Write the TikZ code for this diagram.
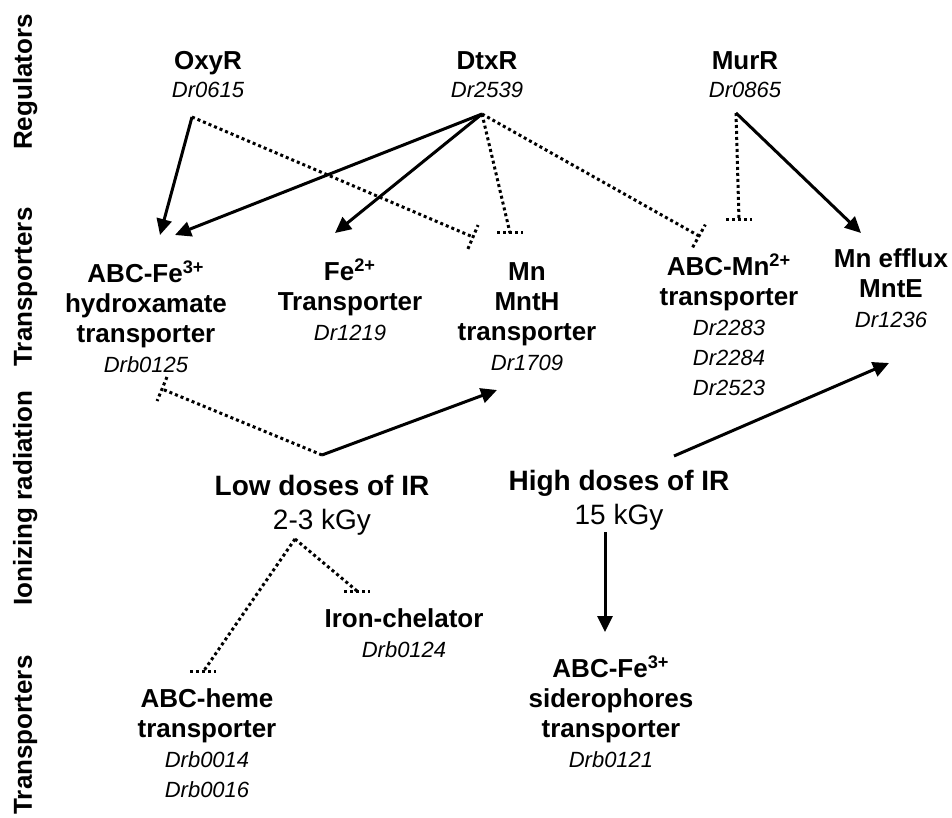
\documentclass[tikz,border=0pt]{standalone}
\usepackage{fontspec}
\setmainfont{Liberation Sans}
\usetikzlibrary{arrows.meta, decorations.markings}

\newcommand{\gid}[1]{{\fontsize{11}{15}\selectfont\mdseries\itshape #1}}

\tikzset{
  % nodes sit on the baseline of their last line
  tbox/.style={align=center, anchor=base, inner sep=0pt,
               font=\fontsize{13}{15}\selectfont\bfseries},
  regbox/.style={tbox, font=\fontsize{13}{14}\selectfont\bfseries},
  irbox/.style={tbox, font=\fontsize{14}{17}\selectfont\bfseries},
  sidelab/.style={rotate=90, anchor=base, inner sep=0pt,
                  font=\fontsize{13}{15}\selectfont\bfseries},
  act/.style={line width=1.5pt, -{Triangle[length=8pt, width=7.5pt]}},
  dotline/.style={line width=1.5pt, dash pattern=on 1.5pt off 1.5pt},
  % repression: dotted line ending in a dotted bar
  rep/.style={dotline, postaction={decorate},
    decoration={markings, mark=at position 1 with
      {\draw[dotline] (0,-6.5pt) -- (0,6.5pt);}}},
  repflat/.style={dotline, postaction={decorate},
    decoration={markings, mark=at position 1 with
      {\pgftransformresetnontranslations
       \draw[dotline] (-6.5pt,0) -- (6.5pt,0);}}},
}

\begin{document}
\begin{tikzpicture}[x=0.5pt, y=-0.5pt]
  \useasboundingbox (0,0) rectangle (952,818);

  % row labels
  \node[sidelab] (labreg) at (32,82)  {Regulators};
  \node[sidelab] (labtr1) at (32,287) {Transporters};
  \node[sidelab] (labir)  at (32,498) {Ionizing radiation};
  \node[sidelab] (labtr2) at (32,735) {Transporters};

  % regulators
  \node[regbox] (oxyr) at (208,98) {OxyR\\\gid{Dr0615}};
  \node[regbox] (dtxr) at (487,98) {DtxR\\\gid{Dr2539}};
  \node[regbox] (murr) at (745,98) {MurR\\\gid{Dr0865}};

  % transporters
  \node[tbox] (fe3hx) at (146,372)
    {ABC-Fe\textsuperscript{3+}\\hydroxamate\\transporter\\\gid{Drb0125}};
  \node[tbox] (fe2) at (350,340)
    {Fe\textsuperscript{2+}\\Transporter\\\gid{Dr1219}};
  \node[tbox] (mnth) at (527,370)
    {Mn\\MntH\\transporter\\\gid{Dr1709}};
  \node[tbox] (mn2) at (729,395)
    {ABC-Mn\textsuperscript{2+}\\transporter\\\gid{Dr2283}\\\gid{Dr2284}\\\gid{Dr2523}};
  \node[tbox] (mnte) at (891,327)
    {Mn efflux\\MntE\\\gid{Dr1236}};

  % irradiation
  \node[irbox] (low) at (322,529) {Low doses of IR\\\mdseries 2-3 kGy};
  \node[irbox] (high) at (619,524) {High doses of IR\\\mdseries 15 kGy};

  % lower transporters
  \node[tbox] (chel) at (404,657) {Iron-chelator\\\gid{Drb0124}};
  \node[tbox] (heme) at (207,797)
    {ABC-heme\\transporter\\\gid{Drb0014}\\\gid{Drb0016}};
  \node[tbox] (fe3sd) at (611,767)
    {ABC-Fe\textsuperscript{3+}\\siderophores\\transporter\\\gid{Drb0121}};

  % connector ends
  \coordinate (oxyr-o) at (192,117);
  \coordinate (dtxr-o) at (482,114);
  \coordinate (murr-o) at (736,113);
  \coordinate (low-u)  at (322,455);
  \coordinate (low-d)  at (295,539);
  \coordinate (high-u) at (674,456);
  \coordinate (high-d) at (605,532);

  \coordinate (fe3hx-a) at (160,235);
  \coordinate (fe3hx-b) at (175,235);
  \coordinate (fe3hx-r) at (162,389);
  \coordinate (fe2-a)   at (335,233);
  \coordinate (mnth-a)  at (497,390);
  \coordinate (mnth-r)  at (473,237);
  \coordinate (mnth-s)  at (510,233);
  \coordinate (mn2-r)   at (699,236);
  \coordinate (mn2-s)   at (739,220);
  \coordinate (mnte-a)  at (861,233);
  \coordinate (mnte-b)  at (889,363);
  \coordinate (chel-r)  at (357,591);
  \coordinate (heme-r)  at (203,672);
  \coordinate (fe3sd-a) at (605,632);

  % activation
  \draw[act] (oxyr-o) -- (fe3hx-a);
  \draw[act] (dtxr-o) -- (fe3hx-b);
  \draw[act] (dtxr-o) -- (fe2-a);
  \draw[act] (murr-o) -- (mnte-a);
  \draw[act] (low-u) -- (mnth-a);
  \draw[act] (high-u) -- (mnte-b);
  \draw[act] (high-d) -- (fe3sd-a);

  % repression
  \draw[rep] (oxyr-o) -- (mnth-r);
  \draw[repflat] (dtxr-o) -- (mnth-s);
  \draw[rep] (dtxr-o) -- (mn2-r);
  \draw[repflat] (murr-o) -- (mn2-s);
  \draw[rep] (low-u) -- (fe3hx-r);
  \draw[repflat] (low-d) -- (chel-r);
  \draw[repflat] (low-d) -- (heme-r);
\end{tikzpicture}
\end{document}
